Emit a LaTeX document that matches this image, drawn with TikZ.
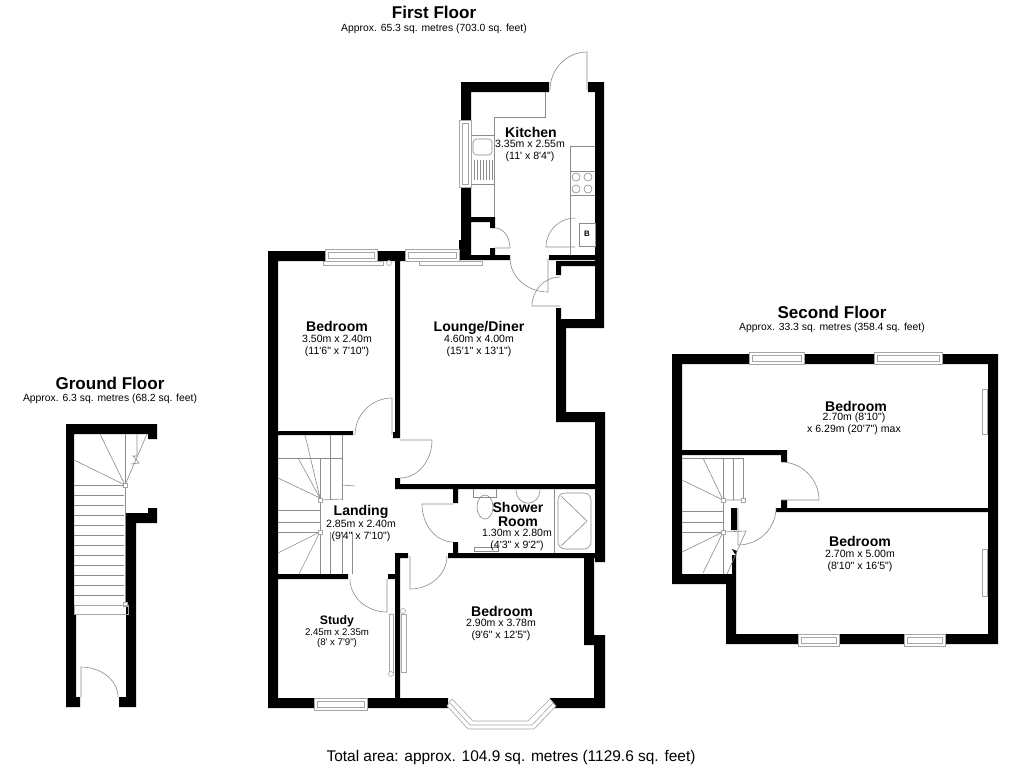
\documentclass[tikz,border=0pt]{standalone}
\usepackage{fontspec}
\setmainfont{Liberation Sans}[Ligatures=TeXOff]
\usetikzlibrary{calc}
\tikzset{
    wall/.style={fill=black},
    thinline/.style={draw=black!45, line width=0.35pt},
    doorline/.style={draw=black!45, line width=0.35pt},
    winline/.style={draw=black!35, fill=white, line width=0.35pt},
    floortitle/.style={font=\fontsize{9.7}{11}\selectfont\bfseries, inner sep=0pt},
    floorarea/.style={font=\fontsize{5.9}{7}\selectfont, inner sep=0pt},
    roomname/.style={font=\fontsize{8}{8}\selectfont\bfseries, inner sep=0pt},
    roomdim/.style={font=\fontsize{6}{6.6}\selectfont, align=center, inner sep=0pt}
}
% door: hinge, end of the leaf, jamb
\newcommand{\doorswing}[3]{\draw[doorline] (#1) -- (#2) .. controls ($(#2)+0.55*(#3)-0.55*(#1)$) and ($(#3)+0.55*(#2)-0.55*(#1)$) .. (#3);}
% window: two opposite corners
\newcommand{\glazing}[2]{\draw[winline] (#1) rectangle (#2); \draw[winline] ($(#1)+(3,3)$) rectangle ($(#2)-(3,3)$);}
\begin{document}
\begin{tikzpicture}[x=0.02cm, y=-0.02cm]
    \useasboundingbox (0,0) rectangle (1024,768);

    % First floor walls
    \fill[wall] (268,251) rectangle (278,708)
        (268,251) rectangle (325,261) (377,251) rectangle (405,261)
        (395,261) rectangle (400,438) (393,432) rectangle (400,438)
        (278,431) rectangle (353,435)
        (459,240) rectangle (471,260) (459,255) rectangle (510,260)
        (461,82) rectangle (471,120) (461,187) rectangle (471,255)
        (461,82) rectangle (549,92) (588,82) rectangle (604,92)
        (595,82) rectangle (604,328)
        (471,217) rectangle (495,222) (490,222) rectangle (495,228)
        (490,248) rectangle (495,255)
        (549,255) rectangle (595,260) (556,261) rectangle (595,266)
        (556,261) rectangle (561,275) (556,308) rectangle (561,319)
        (556,319) rectangle (604,328) (556,319) rectangle (566,422)
        (556,412) rectangle (605,422) (595,412) rectangle (605,562)
        (395,478) rectangle (400,489) (395,484) rectangle (595,489)
        (453,489) rectangle (458,503) (453,542) rectangle (458,553)
        (448,553) rectangle (595,558) (584,553) rectangle (594,645)
        (584,635) rectangle (605,645) (594,635) rectangle (605,708)
        (395,553) rectangle (408,558) (395,553) rectangle (400,698)
        (388,574) rectangle (395,579) (268,574) rectangle (348,579)
        (268,698) rectangle (314,708) (367,698) rectangle (448,708)
        (550,698) rectangle (605,708);

    % First floor windows and radiators
    \glazing{325,249}{377,261}
    \glazing{405,249}{459,261}
    \glazing{459,120}{471,187}
    \glazing{314,698}{367,710}
    \draw[winline] (323,261) rectangle (383,265);
    \draw[winline] (389,263) circle (2.5);
    \draw[winline] (419,261) rectangle (482,265);
    \draw[winline] (389,614) rectangle (393,672);
    \draw[winline] (391,674) circle (2.5);
    \draw[winline] (401,614) rectangle (406,672);
    \draw[winline] (403,611) circle (2.5);

    % Bay window
    \draw[winline] (452,699) -- (447,706) -- (468,729) -- (534,729) -- (556,706) -- (550,699) -- (528,721) -- (473,721) -- cycle;
    \draw[winline, fill=none] (450,703) -- (470,725) -- (532,725) -- (553,703);

    % First floor doors
    \doorswing{587,90}{587,52}{550,90}
    \doorswing{495,248}{510,248}{495,228}
    \doorswing{548,258}{548,292}{510,258}
    \doorswing{560,306}{532,306}{560,277}
    \doorswing{575,247}{546,247}{575,218}
    \doorswing{392,435}{392,398}{355,435}
    \doorswing{400,440}{432,440}{400,478}
    \doorswing{453,504}{422,504}{453,542}
    \doorswing{410,556}{410,589}{447,556}
    \doorswing{387,579}{387,612}{350,579}

    % Kitchen units
    \draw[thinline] (545,92) -- (545,117) -- (494,117) -- (494,217);
    \draw[thinline] (471,135) -- (494,135) (471,184) -- (494,184);
    \draw[thinline, rounded corners=2] (473,139) rectangle (492,155);
    \foreach \x in {474,477,...,492} {
        \draw[thinline] (\x,160) -- (\x,180);
    }
    \draw[thinline] (570,146) -- (570,255);
    \draw[thinline] (570,146) -- (595,146) (570,171) -- (595,171) (570,195) -- (595,195);
    \foreach \x in {576,588} {
        \foreach \y in {177,189} {
            \draw[thinline] (\x,\y) circle (4);
        }
    }
    \draw[thinline] (579,223) rectangle (595,246);
    \node[font=\fontsize{4.5}{5}\selectfont\bfseries, inner sep=0pt] (boiler) at (587,234) {B};

    % Shower room fittings
    \draw[thinline] (554,489) -- (554,553);
    \draw[thinline, rounded corners=4] (558,493) rectangle (591,549);
    \draw[thinline] (561,496) -- (587,521) -- (561,546);
    \draw[thinline] (473,489) -- (473,497) -- (496,497) -- (496,489);
    \draw[thinline] (485,507) ellipse (8 and 12);
    \draw[thinline] (516,489) .. controls (516,508) and (540,508) .. (540,489);
    \draw[thinline] (474,547) rectangle (498,551);

    % First floor stairs
    \draw[thinline] (342,435) -- (342,500) (330,435) -- (330,500) (320,458) -- (320,532);
    \draw[thinline] (278,458) -- (342,458);
    \draw[thinline] (305,435) -- (320,498) (298,458) -- (320,498) (278,478) -- (320,498);
    \draw[thinline] (320,500) -- (342,499) (342,485) -- (355,486);
    \foreach \y in {510,522,532} {
        \draw[thinline] (278,\y) -- (320,\y);
    }
    \draw[thinline] (278,553) -- (320,532) (299,574) -- (320,532);
    \foreach \x in {320,330,342,352} {
        \draw[thinline] (\x,532) -- (\x,574);
    }
    \draw[winline] (318,498) rectangle (322,502);
    \draw[winline] (318,530) rectangle (322,534);

    % Second floor walls
    \fill[wall] (672,354) rectangle (998,364) (672,354) rectangle (682,584)
        (672,574) rectangle (736,584) (726,574) rectangle (736,644)
        (726,634) rectangle (998,644) (988,354) rectangle (998,644)
        (776,508) rectangle (988,512) (682,450) rectangle (787,455)
        (781,455) rectangle (787,462) (781,500) rectangle (787,508)
        (731,508) rectangle (737,530) (732,555) rectangle (736,575);
    \fill[wall] (732,549) -- (737,551) -- (736,556) -- cycle;

    % Second floor windows and radiators
    \glazing{749,352}{804,364}
    \glazing{874,352}{942,364}
    \glazing{798,634}{839,646}
    \glazing{904,634}{945,646}
    \draw[winline] (982,389) rectangle (987,434);
    \draw[winline] (982,549) rectangle (987,596);

    % Second floor doors
    \doorswing{781,500}{819,500}{781,462}
    \doorswing{738,508}{738,545}{776,508}

    % Second floor stairs
    \draw[thinline] (682,458) -- (743,458) (723,458) -- (723,574) (733,458) -- (733,500) (743,458) -- (743,500);
    \draw[thinline] (703,458) -- (723,500) (682,480) -- (723,500) (723,500) -- (743,500);
    \foreach \y in {511,522,532} {
        \draw[thinline] (682,\y) -- (723,\y);
    }
    \draw[thinline] (682,552) -- (723,532) (703,573) -- (723,532) (723,532) -- (746,531) -- (727,574);
    \draw[winline] (721,498) rectangle (725,502);
    \draw[winline] (721,530) rectangle (725,534);
    \draw[winline] (741,498) rectangle (745,502);

    % Ground floor walls
    \fill[wall] (66,424) rectangle (157,434) (148,434) rectangle (157,439)
        (66,424) rectangle (74,614) (66,614) rectangle (76,707)
        (66,697) rectangle (80,707) (119,697) rectangle (136,707)
        (126,523) rectangle (136,707) (126,513) rectangle (157,523)
        (148,508) rectangle (157,513);

    % Ground floor stairs and door
    \foreach \y in {485,495,...,605} {
        \draw[thinline] (74,\y) -- (124,\y);
    }
    \draw[thinline] (125,434) -- (125,604);
    \draw[thinline] (100,434) -- (125,485) (74,460) -- (125,485) (147,434) -- (125,485);
    \draw[thinline] (137,434) -- (137,456) -- (133,456) -- (139,463) -- (131,464);
    \draw[winline] (123,483) rectangle (127,487);
    \draw[winline] (123,602) rectangle (127,606);
    \draw[winline, fill=none] (74,605) rectangle (128,614);
    \doorswing{81,697}{81,667}{118,697}

    % Labels
    \node[floortitle] (firstfloor) at (434,12) {First Floor};
    \node[floorarea] (firstarea) at (434,29) {Approx. 65.3 sq. metres (703.0 sq. feet)};
    \node[floortitle] (secondfloor) at (832,312) {Second Floor};
    \node[floorarea] (secondarea) at (832,328) {Approx. 33.3 sq. metres (358.4 sq. feet)};
    \node[floortitle] (groundfloor) at (110,383) {Ground Floor};
    \node[floorarea] (groundarea) at (110,399) {Approx. 6.3 sq. metres (68.2 sq. feet)};
    \node[font=\fontsize{8.8}{10}\selectfont, inner sep=0pt] (totalarea) at (511,757) {Total area: approx. 104.9 sq. metres (1129.6 sq. feet)};

    % Room names and sizes
    \node[roomname] (kitchen) at (531,132) {Kitchen};
    \node[roomdim] (kitchendim) at (530,151) {3.35m x 2.55m\\(11' x 8'4")};
    \node[roomname] (bedroomA) at (337,326) {Bedroom};
    \node[roomdim] (bedroomAdim) at (337,346) {3.50m x 2.40m\\(11'6" x 7'10")};
    \node[roomname] (lounge) at (479,328) {Lounge/Diner};
    \node[roomdim] (loungedim) at (479,346) {4.60m x 4.00m\\(15'1" x 13'1")};
    \node[roomname] (landing) at (361,512) {Landing};
    \node[roomdim] (landingdim) at (361,531) {2.85m x 2.40m\\(9'4" x 7'10")};
    \node[roomname, align=center] (shower) at (518,514) {Shower\\Room};
    \node[roomdim] (showerdim) at (517,540) {1.30m x 2.80m\\(4'3" x 9'2")};
    \node[roomname, font=\fontsize{7}{8}\selectfont\bfseries] (study) at (337,621) {Study};
    \node[roomdim, font=\fontsize{5.5}{5.9}\selectfont] (studydim) at (337,638) {2.45m x 2.35m\\(8' x 7'9")};
    \node[roomname] (bedroomB) at (502,611) {Bedroom};
    \node[roomdim] (bedroomBdim) at (501,630) {2.90m x 3.78m\\(9'6" x 12'5")};
    \node[roomname] (bedroomC) at (856,406) {Bedroom};
    \node[roomdim] (bedroomCdim) at (854,424) {2.70m (8'10")\\x 6.29m (20'7") max};
    \node[roomname] (bedroomD) at (860,541) {Bedroom};
    \node[roomdim] (bedroomDdim) at (860,561) {2.70m x 5.00m\\(8'10" x 16'5")};
\end{tikzpicture}
\end{document}
